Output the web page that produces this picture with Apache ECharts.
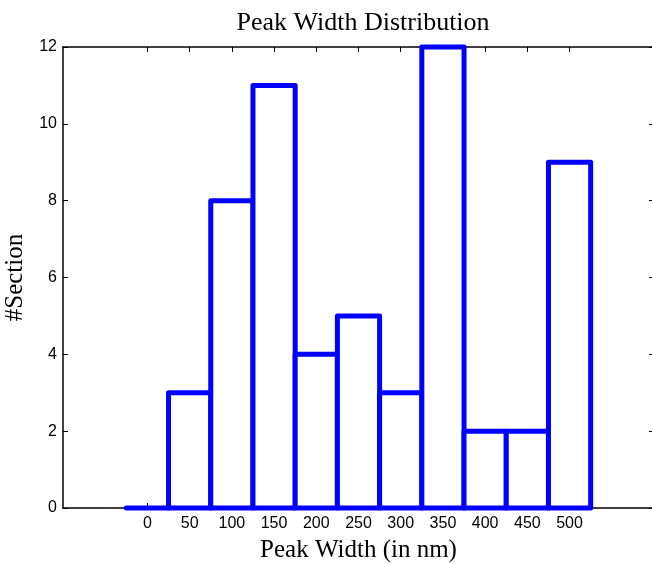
<!DOCTYPE html>
<html>
<head>
<meta charset="utf-8">
<script src="https://cdn.jsdelivr.net/npm/echarts@6/dist/echarts.min.js"></script>
<style>
  html, body { margin: 0; padding: 0; background: #fff; }
  #chart { width: 652px; height: 564px; }
</style>
</head>
<body>
<div id="chart"></div>
<script>
// Histogram bins (peak width in nm) and number of sections per bin
const binCenters = [0, 50, 100, 150, 200, 250, 300, 350, 400, 450, 500];
const sectionCounts = [0, 3, 8, 11, 4, 5, 3, 12, 2, 2, 9];
const xTicks = [0, 50, 100, 150, 200, 250, 300, 350, 400, 450, 500];
const binWidth = 50;

const chart = echarts.init(document.getElementById('chart'), null, { renderer: 'canvas' });

const serif = 'Liberation Serif, Times New Roman, serif';
const sans = 'Liberation Sans, Arial, Helvetica, sans-serif';

const binData = binCenters.map((c, i) => [c, sectionCounts[i]]);

function renderBin(params, api) {
  const c = api.value(0);
  const v = api.value(1);
  const p0 = api.coord([c - binWidth / 2, v]);
  const p1 = api.coord([c + binWidth / 2, 0]);
  return {
    type: 'rect',
    shape: { x: p0[0], y: p0[1], width: p1[0] - p0[0], height: p1[1] - p0[1] },
    style: { fill: '#ffffff', stroke: '#0000ff', lineWidth: 5, lineJoin: 'round' }
  };
}

const tickLabelFmt = function (v) { return xTicks.indexOf(v) >= 0 ? String(v) : ''; };
const frameLine = { show: true, onZero: false, lineStyle: { color: '#000', width: 1.5 } };
const innerTick = { show: true, inside: true, length: 5, lineStyle: { color: '#000' } };

chart.setOption({
  animation: false,
  backgroundColor: '#ffffff',
  title: {
    text: 'Peak Width Distribution',
    left: 358, top: 5, textAlign: 'center',
    textStyle: { fontFamily: serif, fontSize: 26, fontWeight: 'normal', color: '#000' }
  },
  grid: { left: 63, right: -2, top: 47, bottom: 56, containLabel: false, outerBoundsMode: 'none' },
  xAxis: [
    {
      type: 'value', min: -100, max: 600, interval: 50, position: 'bottom',
      name: 'Peak Width (in nm)', nameLocation: 'middle', nameGap: 30,
      nameTextStyle: { fontFamily: serif, fontSize: 25, color: '#000' },
      axisLine: frameLine,
      axisTick: Object.assign({ customValues: xTicks }, innerTick),
      axisLabel: { fontFamily: sans, fontSize: 16, color: '#000', margin: 8,
        customValues: xTicks, formatter: tickLabelFmt },
      splitLine: { show: false }
    },
    {
      type: 'value', min: -100, max: 600, interval: 50, position: 'top',
      axisLine: frameLine,
      axisTick: Object.assign({ customValues: xTicks }, innerTick),
      axisLabel: { show: false },
      splitLine: { show: false }
    }
  ],
  yAxis: [
    {
      type: 'value', min: 0, max: 12, interval: 2, position: 'left',
      name: '#Section', nameLocation: 'middle', nameGap: 34, nameRotate: 90,
      nameTextStyle: { fontFamily: serif, fontSize: 25, color: '#000' },
      axisLine: frameLine,
      axisTick: innerTick,
      axisLabel: { fontFamily: sans, fontSize: 16, color: '#000', margin: 6 },
      splitLine: { show: false }
    },
    {
      type: 'value', min: 0, max: 12, interval: 2, position: 'right',
      axisLine: frameLine,
      axisTick: innerTick,
      axisLabel: { show: false },
      splitLine: { show: false }
    }
  ],
  series: [
    {
      type: 'custom',
      renderItem: renderBin,
      data: binData,
      xAxisIndex: 0, yAxisIndex: 0,
      encode: { x: 0, y: 1 },
      clip: false,
      z: 5
    }
  ]
});
</script>
</body>
</html>
